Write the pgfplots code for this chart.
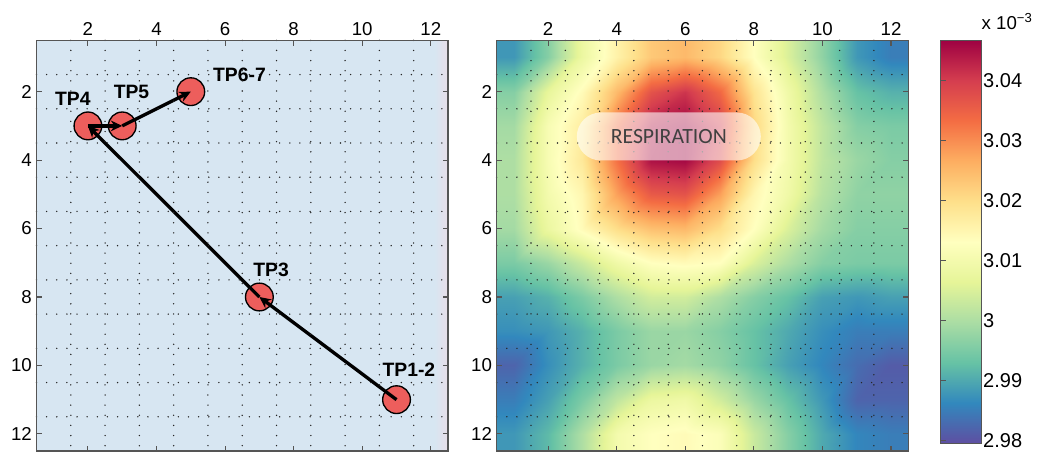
\documentclass[border=0pt]{standalone}
\usepackage{pgfplots}
\pgfplotsset{compat=1.18}
\usepackage{fontspec}
\setmainfont{Liberation Sans}
\newfontfamily\carlito{Carlito}
\usetikzlibrary{arrows.meta}
\definecolor{bgblue}{RGB}{215,230,242}
\definecolor{bgpink}{RGB}{232,222,232}
\definecolor{tpred}{RGB}{237,94,92}
\definecolor{framec}{RGB}{85,85,85}
\pgfplotsset{
  colormap={spectralr}{rgb255=(94,79,162) rgb255=(50,136,189) rgb255=(102,194,165) rgb255=(171,221,164) rgb255=(230,245,152) rgb255=(255,255,191) rgb255=(254,224,139) rgb255=(253,174,97) rgb255=(244,109,67) rgb255=(213,62,79) rgb255=(158,1,66)},
  panel/.style={
    scale only axis, width=308.6pt, height=308pt,
    xmin=0.5, xmax=12.5, ymin=0.5, ymax=12.5, y dir=reverse,
    xtick={2,4,...,12}, ytick={2,4,...,12},
    minor xtick={1.5,2.5,...,11.5}, minor ytick={1.5,2.5,...,11.5},
    xminorgrids=true, yminorgrids=true,
    minor grid style={black!85, line width=1.15pt, line cap=round, dash pattern=on 0pt off 7.6pt},
    minor tick length=0pt, major tick length=4pt, tick align=inside,
    xticklabel pos=right,
    axis line style={framec, line width=0.8pt},
    major tick style={framec, line width=0.8pt},
    ticklabel style={font=\fontsize{14}{16}\selectfont},
    /pgf/number format/assume math mode=true,
    axis on top,
  },
}
\begin{document}
\begin{tikzpicture}
\useasboundingbox (-27.375pt,-1.5pt) rectangle (754.125pt,338.25pt);
% ---------------- left panel ----------------
\begin{axis}[panel, at={(0pt,0pt)}, anchor=south west, clip marker paths=true,
  axis background/.style={fill=bgblue}]
\fill[left color=bgblue, right color=bgpink] (axis cs:12.1,0.5) rectangle (axis cs:12.5,12.5);
\addplot[only marks, mark=*, mark size=10.4pt,
  mark options={fill=tpred, draw=black, line width=1pt}]
  coordinates {(11,11) (7,8) (2,3) (3,3) (5,2)};
\addplot[black, quiver={u=\thisrow{u}, v=\thisrow{v},
  every arrow/.append style={-{Stealth[length=8.5pt, width=8pt]}, line width=2.5pt, black}}]
  table {
x y u v
11 11 -4 -3
7 8 -5 -5
2 3 1 0
3 3 2 -1
};
\addplot[only marks, mark=none, nodes near coords, point meta=explicit symbolic,
  nodes near coords style={anchor=center, font=\fontsize{14.5}{16}\selectfont\bfseries}]
  table[meta=label] {
x y label
11.36 10.12 TP1-2
7.34 7.2 TP3
1.56 2.2 TP4
3.27 2.02 TP5
6.42 1.5 TP6-7
};
\end{axis}
% ---------------- right panel ----------------
\begin{axis}[panel, at={(345.15pt,0pt)}, anchor=south west,
  colormap name=spectralr,
  point meta min=2.9795, point meta max=3.0467]
\addplot[surf, shader=interp, mesh/cols=14, point meta=explicit] coordinates {
(0.5,0.5) [2.988] (1,0.5) [2.988] (2,0.5) [2.996] (3,0.5) [3.008] (4,0.5) [3.016] (5,0.5) [3.023] (6,0.5) [3.025] (7,0.5) [3.021] (8,0.5) [3.013] (9,0.5) [3.005] (10,0.5) [2.997] (11,0.5) [2.988] (12,0.5) [2.985] (12.5,0.5) [2.985]
(0.5,1) [2.988] (1,1) [2.988] (2,1) [2.996] (3,1) [3.008] (4,1) [3.016] (5,1) [3.023] (6,1) [3.025] (7,1) [3.021] (8,1) [3.013] (9,1) [3.005] (10,1) [2.997] (11,1) [2.988] (12,1) [2.985] (12.5,1) [2.985]
(0.5,2) [2.996] (1,2) [2.996] (2,2) [3.007] (3,2) [3.014] (4,2) [3.025] (5,2) [3.037] (6,2) [3.041] (7,2) [3.034] (8,2) [3.019] (9,2) [3.009] (10,2) [3.000] (11,2) [2.993] (12,2) [2.991] (12.5,2) [2.991]
(0.5,3) [2.999] (1,3) [2.999] (2,3) [3.011] (3,3) [3.017] (4,3) [3.033] (5,3) [3.044] (6,3) [3.046] (7,3) [3.040] (8,3) [3.021] (9,3) [3.010] (10,3) [3.002] (11,3) [2.996] (12,3) [2.995] (12.5,3) [2.995]
(0.5,4) [3.000] (1,4) [3.000] (2,4) [3.011] (3,4) [3.018] (4,4) [3.033] (5,4) [3.045] (6,4) [3.046] (7,4) [3.038] (8,4) [3.020] (9,4) [3.010] (10,4) [3.002] (11,4) [2.998] (12,4) [2.996] (12.5,4) [2.996]
(0.5,5) [3.000] (1,5) [3.000] (2,5) [3.010] (3,5) [3.015] (4,5) [3.028] (5,5) [3.036] (6,5) [3.037] (7,5) [3.028] (8,5) [3.015] (9,5) [3.009] (10,5) [3.001] (11,5) [2.997] (12,5) [2.997] (12.5,5) [2.997]
(0.5,6) [2.999] (1,6) [2.999] (2,6) [3.008] (3,6) [3.014] (4,6) [3.020] (5,6) [3.024] (6,6) [3.025] (7,6) [3.020] (8,6) [3.013] (9,6) [3.005] (10,6) [2.999] (11,6) [2.996] (12,6) [2.996] (12.5,6) [2.996]
(0.5,7) [2.995] (1,7) [2.995] (2,7) [2.998] (3,7) [3.003] (4,7) [3.009] (5,7) [3.013] (6,7) [3.014] (7,7) [3.013] (8,7) [3.005] (9,7) [3.000] (10,7) [2.996] (11,7) [2.995] (12,7) [2.995] (12.5,7) [2.995]
(0.5,8) [2.989] (1,8) [2.989] (2,8) [2.991] (3,8) [2.995] (4,8) [3.000] (5,8) [3.004] (6,8) [3.004] (7,8) [3.000] (8,8) [2.996] (9,8) [2.993] (10,8) [2.989] (11,8) [2.988] (12,8) [2.989] (12.5,8) [2.989]
(0.5,9) [2.987] (1,9) [2.987] (2,9) [2.988] (3,9) [2.991] (4,9) [2.995] (5,9) [2.998] (6,9) [2.998] (7,9) [2.996] (8,9) [2.993] (9,9) [2.990] (10,9) [2.987] (11,9) [2.985] (12,9) [2.985] (12.5,9) [2.985]
(0.5,10) [2.982] (1,10) [2.982] (2,10) [2.987] (3,10) [2.991] (4,10) [2.995] (5,10) [2.998] (6,10) [2.999] (7,10) [2.997] (8,10) [2.993] (9,10) [2.989] (10,10) [2.986] (11,10) [2.983] (12,10) [2.981] (12.5,10) [2.981]
(0.5,11) [2.985] (1,11) [2.985] (2,11) [2.989] (3,11) [2.995] (4,11) [3.002] (5,11) [3.008] (6,11) [3.009] (7,11) [3.004] (8,11) [2.998] (9,11) [2.993] (10,11) [2.988] (11,11) [2.982] (12,11) [2.982] (12.5,11) [2.982]
(0.5,12) [2.988] (1,12) [2.988] (2,12) [2.992] (3,12) [3.000] (4,12) [3.010] (5,12) [3.013] (6,12) [3.014] (7,12) [3.012] (8,12) [3.003] (9,12) [2.996] (10,12) [2.990] (11,12) [2.986] (12,12) [2.985] (12.5,12) [2.985]
(0.5,12.5) [2.988] (1,12.5) [2.988] (2,12.5) [2.992] (3,12.5) [3.000] (4,12.5) [3.010] (5,12.5) [3.013] (6,12.5) [3.014] (7,12.5) [3.012] (8,12.5) [3.003] (9,12.5) [2.996] (10,12.5) [2.990] (11,12.5) [2.986] (12,12.5) [2.985] (12.5,12.5) [2.985]
};
\coordinate (pill) at (axis cs:5.52,3.31);
\end{axis}
% ---------------- colour bar ----------------
\begin{axis}[at={(677.75pt,5.75pt)}, anchor=south west,
  scale only axis, width=30.75pt, height=302.25pt,
  xmin=0, xmax=1, ymin=2.9795, ymax=3.0467, enlargelimits=false,
  colormap name=spectralr, point meta min=2.9795, point meta max=3.0467,
  xtick=\empty,
  ytick={2.98,2.99,3,3.01,3.02,3.03,3.04},
  yticklabels={2.98,2.99,3,3.01,3.02,3.03,3.04},
  ytick pos=left, yticklabel pos=right,
  tick align=inside, major tick length=4pt, axis on top,
  axis line style={framec, line width=0.8pt},
  major tick style={framec, line width=0.8pt},
  yticklabel style={font=\fontsize{15}{17}\selectfont, xshift=-2pt},
  /pgf/number format/assume math mode=true]
\addplot[surf, shader=interp, mesh/cols=2, point meta=y] coordinates {
(0,2.9795) (1,2.9795)
(0,2.98622) (1,2.98622)
(0,2.99294) (1,2.99294)
(0,2.99966) (1,2.99966)
(0,3.00638) (1,3.00638)
(0,3.0131) (1,3.0131)
(0,3.01982) (1,3.01982)
(0,3.02654) (1,3.02654)
(0,3.03326) (1,3.03326)
(0,3.03998) (1,3.03998)
(0,3.0467) (1,3.0467)
};
\end{axis}
\node[fill=white, fill opacity=0.6, text opacity=1, rounded corners=18pt,
  minimum width=138pt, minimum height=36pt, inner sep=0pt, text=black!75,
  font=\carlito\fontsize{16.3}{18}\selectfont] at (pill) {RESPIRATION};
\node[anchor=center, font=\fontsize{14}{16}\selectfont] at (727.9pt,321.75pt) {x 10\textsuperscript{−3}};
\end{tikzpicture}
\end{document}
